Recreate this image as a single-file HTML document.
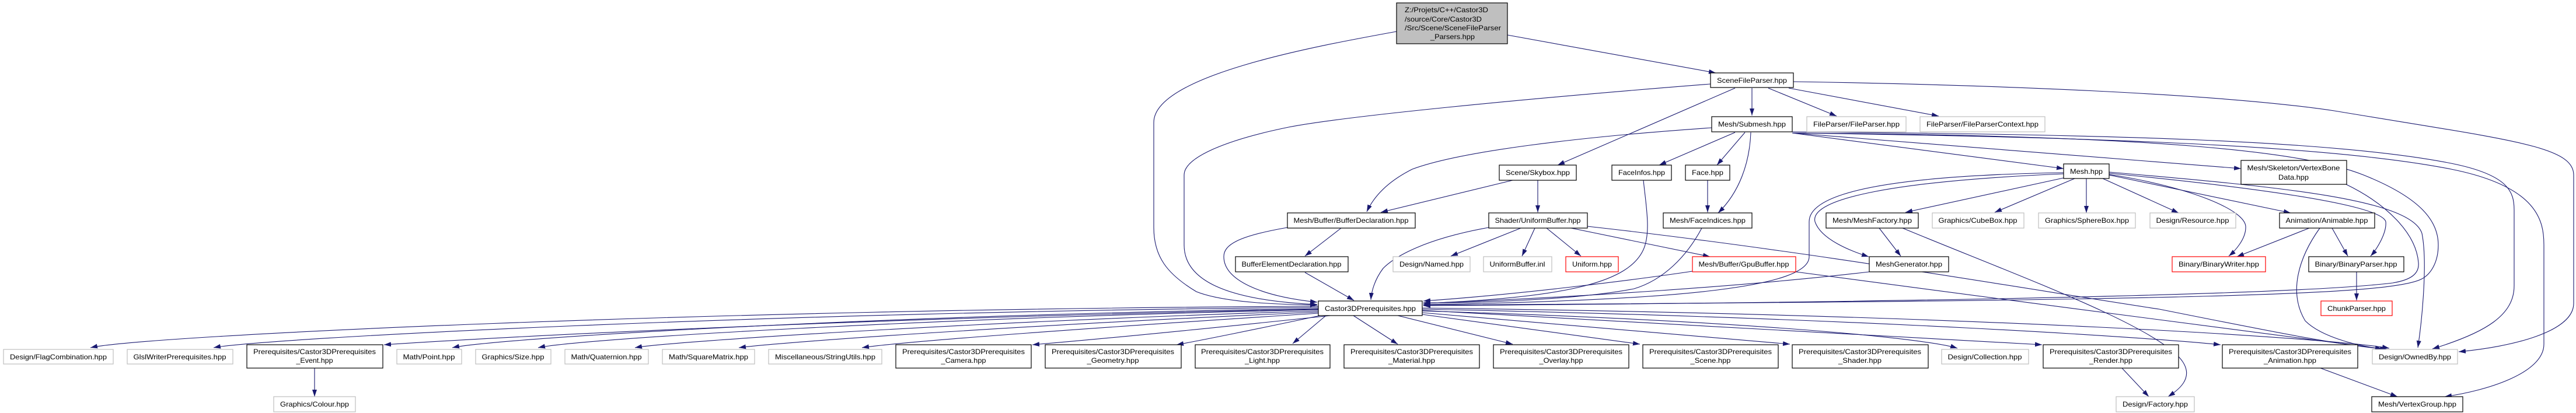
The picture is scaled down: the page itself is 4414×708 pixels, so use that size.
<!DOCTYPE html>
<html><head><meta charset="utf-8"><style>
html,body{margin:0;padding:0;background:#fff;width:4414px;height:708px;overflow:hidden}
svg{display:block}
text{font-family:"Liberation Sans",sans-serif;font-size:12px;fill:#000}
.e{fill:none;stroke:#191970;stroke-width:1.1}
.nb{fill:#fff;stroke:#000;stroke-width:1.2}
.ng{fill:#fff;stroke:#bfbfbf;stroke-width:1.2}
.nr{fill:#fff;stroke:#ff0000;stroke-width:1.2}
</style></head><body>
<svg width="4414" height="708" viewBox="0 0 4414 708" xmlns="http://www.w3.org/2000/svg">
<defs><marker id="a" markerUnits="userSpaceOnUse" markerWidth="12" markerHeight="8" refX="12" refY="4" orient="auto"><path d="M0,0 L12,4 L0,8 z" fill="#191970"/></marker></defs>
<g class="e" marker-end="url(#a)">
<!-- top node -->
<path d="M2583,60 L2940,125"/>
<path d="M2393,54 C2250,80 1977,130 1977,210 L1977,390 C1977,440 2000,470 2050,500 C2100,520 2200,522 2257,523"/>
<!-- SceneFileParser -->
<path d="M2931,144 C2600,170 2300,200 2208,218 C2100,240 2029,270 2029,300 L2029,420 C2029,480 2100,515 2257,522"/>
<path d="M3002,151 L3002,198"/>
<path d="M3030,151 L3147,199"/>
<path d="M3065,151 L3322,199"/>
<path d="M2973,151 L2669,283"/>
<path d="M3073,140 C3400,145 3800,160 4000,190 C4300,240 4410,250 4410,300 L4410,520 C4410,570 4300,595 4213,603"/>
<!-- Submesh -->
<path d="M2933,219 C2700,235 2500,260 2420,290 C2380,310 2355,335 2342,363"/>
<path d="M2973,227 L2843,283"/>
<path d="M2990,227 L2942,283"/>
<path d="M3000,227 C2998,280 2980,330 2944,365"/>
<path d="M3071,228 L3536,289"/>
<path d="M3071,228 L3840,289"/>
<path d="M3071,226 C3600,230 4000,240 4200,280 C4300,300 4308,330 4308,360 L4308,490 C4308,540 4260,570 4168,598"/>
<path d="M3071,228 C3600,235 4000,250 4200,290 C4350,320 4359,380 4359,420 L4359,590 C4359,640 4260,670 4189,680"/>
<path d="M3071,228 C3700,232 3950,260 4050,300 C4150,340 4178,380 4178,420 C4178,450 4165,470 4150,478 C4100,505 3800,515 2439,523"/>
<path d="M4020,316 C4090,350 4140,400 4144,450 C4146,470 4130,480 4100,485 C3900,510 3000,520 2439,524"/>
<!-- Mesh -->
<path d="M3555,306 L3418,364"/>
<path d="M3575,306 L3575,365"/>
<path d="M3603,306 L3733,365"/>
<path d="M3614,300 L3925,365"/>
<path d="M3614,299 C3750,320 3850,360 3848,390 C3848,410 3830,430 3819,439"/>
<path d="M3614,297 C3850,320 4080,350 4088,380 C4090,400 4072,428 4062,439"/>
<path d="M3614,295 C3900,320 4130,340 4150,400 C4160,450 4150,550 4143,596"/>
<path d="M3536,296 C3300,300 3100,320 3100,380 L3100,440 C3100,490 2900,515 2439,522"/>
<path d="M3536,298 C3250,310 3100,340 3110,380 C3120,410 3170,430 3202,440"/>
<path d="M3536,305 L3265,364"/>
<path d="M3220,391 L3257,439"/>
<path d="M3260,391 C3450,470 3700,560 3740,620 C3760,650 3730,670 3715,680"/>
<path d="M3203,466 C3000,490 2700,510 2439,520"/>
<!-- Animable -->
<path d="M3957,391 L3833,440"/>
<path d="M3996,391 L4023,439"/>
<path d="M3975,391 C3940,440 3920,500 3950,550 C3980,580 4050,595 4082,598"/>
<path d="M4038,466 L4038,515"/>
<!-- Skybox etc -->
<path d="M2592,309 L2366,364"/>
<path d="M2635,309 L2635,364"/>
<path d="M2298,391 L2236,439"/>
<path d="M2206,390 C2120,405 2097,420 2097,440 C2097,480 2160,508 2257,518"/>
<path d="M2236,467 L2320,515"/>
<path d="M2551,390 C2440,410 2390,440 2370,460 C2355,480 2350,500 2349,514"/>
<path d="M2606,391 L2486,439"/>
<path d="M2630,391 L2608,439"/>
<path d="M2650,391 L2709,439"/>
<path d="M2692,391 L2930,440"/>
<path d="M2720,388 C3100,430 3500,500 3700,530 C3900,570 4000,590 4090,599"/>
<path d="M2816,309 C2820,350 2830,400 2815,430 C2790,480 2700,510 2439,520"/>
<path d="M2926,309 L2926,364"/>
<path d="M2916,391 C2890,440 2850,480 2800,495 C2700,515 2500,520 2439,519"/>
<path d="M2900,465 C2800,480 2600,505 2439,516"/>
<path d="M3077,466 C3400,510 3800,560 4082,598"/>
<!-- Castor3DPrerequisites to bottom -->
<path d="M2272,541 L2215,589"/>
<path d="M2319,541 L2395,590"/>
<path d="M2395,541 L2592,590"/>
<path d="M2437,539 L2810,590"/>
<path d="M2437,536 L3067,590"/>
<path d="M2437,533 C3000,550 3300,580 3354,597"/>
<path d="M2437,532 L3499,591"/>
<path d="M2437,530 C3200,545 3700,580 3805,591"/>
<path d="M2437,528 C3400,540 4000,580 4094,597"/>
<path d="M2259,530 C1500,545 900,575 658,591"/>
<path d="M2280,541 C2100,560 1900,580 1769,591"/>
<path d="M2262,541 C2150,565 2050,585 2016,591"/>
<path d="M2259,537 C1900,560 1550,585 1477,596"/>
<path d="M2259,535 C1800,555 1350,585 1266,596"/>
<path d="M2259,533 C1700,550 1150,585 1088,596"/>
<path d="M2259,531 C1600,545 1000,580 922,596"/>
<path d="M2259,529 C1500,540 850,580 775,596"/>
<path d="M2259,527 C1300,535 450,580 366,596"/>
<path d="M2259,525 C1200,530 250,575 155,596"/>
<path d="M539,631 L539,680"/>
<path d="M3636,631 L3682,680"/>
<path d="M3976,631 L4108,680"/>
</g>
<!-- nodes -->
<rect x="2393" y="5" width="190" height="70" fill="#bfbfbf" stroke="#000" stroke-width="1.2"/>
<text x="2407" y="21" textLength="143" lengthAdjust="spacingAndGlyphs">Z:/Projets/C++/Castor3D</text>
<text x="2407" y="37" textLength="132" lengthAdjust="spacingAndGlyphs">/source/Core/Castor3D</text>
<text x="2407" y="52" textLength="165" lengthAdjust="spacingAndGlyphs">/Src/Scene/SceneFileParser</text>
<text x="2489" y="67" text-anchor="middle" textLength="76" lengthAdjust="spacingAndGlyphs">_Parsers.hpp</text>
<g text-anchor="middle">
<rect class="nb" x="2931" y="125" width="142" height="25"/><text x="3002" y="142" textLength="120" lengthAdjust="spacingAndGlyphs">SceneFileParser.hpp</text>
<rect class="nb" x="2933" y="200" width="138" height="26"/><text x="3002" y="217" textLength="116" lengthAdjust="spacingAndGlyphs">Mesh/Submesh.hpp</text>
<rect class="ng" x="3096" y="200" width="170" height="26"/><text x="3181" y="217" textLength="148" lengthAdjust="spacingAndGlyphs">FileParser/FileParser.hpp</text>
<rect class="ng" x="3290" y="200" width="214" height="26"/><text x="3397" y="217" textLength="192" lengthAdjust="spacingAndGlyphs">FileParser/FileParserContext.hpp</text>
<rect class="nb" x="2569" y="283" width="132" height="26"/><text x="2635" y="300" textLength="110" lengthAdjust="spacingAndGlyphs">Scene/Skybox.hpp</text>
<rect class="nb" x="2762" y="283" width="102" height="26"/><text x="2813" y="300" textLength="80" lengthAdjust="spacingAndGlyphs">FaceInfos.hpp</text>
<rect class="nb" x="2888" y="283" width="76" height="26"/><text x="2926" y="300" textLength="54" lengthAdjust="spacingAndGlyphs">Face.hpp</text>
<rect class="nb" x="3536" y="281" width="78" height="25"/><text x="3575" y="298" textLength="56" lengthAdjust="spacingAndGlyphs">Mesh.hpp</text>
<rect class="nb" x="3840" y="275" width="181" height="41"/><text x="3930" y="292" textLength="159" lengthAdjust="spacingAndGlyphs">Mesh/Skeleton/VertexBone</text><text x="3930" y="308" textLength="52" lengthAdjust="spacingAndGlyphs">Data.hpp</text>
<rect class="nb" x="2206" y="365" width="219" height="26"/><text x="2315" y="382" textLength="197" lengthAdjust="spacingAndGlyphs">Mesh/Buffer/BufferDeclaration.hpp</text>
<rect class="nb" x="2551" y="365" width="169" height="26"/><text x="2635" y="382" textLength="147" lengthAdjust="spacingAndGlyphs">Shader/UniformBuffer.hpp</text>
<rect class="nb" x="2850" y="365" width="152" height="26"/><text x="2926" y="382" textLength="130" lengthAdjust="spacingAndGlyphs">Mesh/FaceIndices.hpp</text>
<rect class="nb" x="3129" y="365" width="158" height="26"/><text x="3208" y="382" textLength="136" lengthAdjust="spacingAndGlyphs">Mesh/MeshFactory.hpp</text>
<rect class="ng" x="3311" y="365" width="157" height="26"/><text x="3389" y="382" textLength="135" lengthAdjust="spacingAndGlyphs">Graphics/CubeBox.hpp</text>
<rect class="ng" x="3493" y="365" width="166" height="26"/><text x="3576" y="382" textLength="144" lengthAdjust="spacingAndGlyphs">Graphics/SphereBox.hpp</text>
<rect class="ng" x="3684" y="365" width="147" height="26"/><text x="3757" y="382" textLength="125" lengthAdjust="spacingAndGlyphs">Design/Resource.hpp</text>
<rect class="nb" x="3906" y="365" width="163" height="26"/><text x="3987" y="382" textLength="141" lengthAdjust="spacingAndGlyphs">Animation/Animable.hpp</text>
<rect class="nb" x="2117" y="440" width="193" height="26"/><text x="2213" y="457" textLength="171" lengthAdjust="spacingAndGlyphs">BufferElementDeclaration.hpp</text>
<rect class="ng" x="2387" y="440" width="132" height="26"/><text x="2453" y="457" textLength="110" lengthAdjust="spacingAndGlyphs">Design/Named.hpp</text>
<rect class="ng" x="2542" y="440" width="117" height="26"/><text x="2600" y="457" textLength="95" lengthAdjust="spacingAndGlyphs">UniformBuffer.inl</text>
<rect class="nr" x="2683" y="440" width="90" height="26"/><text x="2728" y="457" textLength="68" lengthAdjust="spacingAndGlyphs">Uniform.hpp</text>
<rect class="nr" x="2900" y="440" width="177" height="26"/><text x="2988" y="457" textLength="155" lengthAdjust="spacingAndGlyphs">Mesh/Buffer/GpuBuffer.hpp</text>
<rect class="nb" x="3203" y="440" width="136" height="26"/><text x="3271" y="457" textLength="114" lengthAdjust="spacingAndGlyphs">MeshGenerator.hpp</text>
<rect class="nr" x="3722" y="440" width="160" height="26"/><text x="3802" y="457" textLength="138" lengthAdjust="spacingAndGlyphs">Binary/BinaryWriter.hpp</text>
<rect class="nb" x="3956" y="440" width="163" height="26"/><text x="4037" y="457" textLength="141" lengthAdjust="spacingAndGlyphs">Binary/BinaryParser.hpp</text>
<rect class="nb" x="2259" y="516" width="178" height="25"/><text x="2348" y="533" textLength="156" lengthAdjust="spacingAndGlyphs">Castor3DPrerequisites.hpp</text>
<rect class="nr" x="3977" y="516" width="122" height="25"/><text x="4038" y="533" textLength="100" lengthAdjust="spacingAndGlyphs">ChunkParser.hpp</text>
<rect class="ng" x="6" y="599" width="188" height="25"/><text x="100" y="616" textLength="166" lengthAdjust="spacingAndGlyphs">Design/FlagCombination.hpp</text>
<rect class="ng" x="218" y="599" width="181" height="25"/><text x="308" y="616" textLength="159" lengthAdjust="spacingAndGlyphs">GlslWriterPrerequisites.hpp</text>
<rect class="nb" x="423" y="591" width="233" height="40"/><text x="539" y="607" textLength="210" lengthAdjust="spacingAndGlyphs">Prerequisites/Castor3DPrerequisites</text><text x="539" y="622" textLength="63" lengthAdjust="spacingAndGlyphs">_Event.hpp</text>
<rect class="ng" x="680" y="599" width="111" height="25"/><text x="735" y="616" textLength="89" lengthAdjust="spacingAndGlyphs">Math/Point.hpp</text>
<rect class="ng" x="815" y="599" width="129" height="25"/><text x="879" y="616" textLength="107" lengthAdjust="spacingAndGlyphs">Graphics/Size.hpp</text>
<rect class="ng" x="968" y="599" width="143" height="25"/><text x="1039" y="616" textLength="121" lengthAdjust="spacingAndGlyphs">Math/Quaternion.hpp</text>
<rect class="ng" x="1135" y="599" width="158" height="25"/><text x="1214" y="616" textLength="136" lengthAdjust="spacingAndGlyphs">Math/SquareMatrix.hpp</text>
<rect class="ng" x="1317" y="599" width="194" height="25"/><text x="1414" y="616" textLength="172" lengthAdjust="spacingAndGlyphs">Miscellaneous/StringUtils.hpp</text>
<rect class="nb" x="1535" y="591" width="232" height="40"/><text x="1651" y="607" textLength="210" lengthAdjust="spacingAndGlyphs">Prerequisites/Castor3DPrerequisites</text><text x="1651" y="622" textLength="77" lengthAdjust="spacingAndGlyphs">_Camera.hpp</text>
<rect class="nb" x="1791" y="591" width="233" height="40"/><text x="1907" y="607" textLength="210" lengthAdjust="spacingAndGlyphs">Prerequisites/Castor3DPrerequisites</text><text x="1907" y="622" textLength="89" lengthAdjust="spacingAndGlyphs">_Geometry.hpp</text>
<rect class="nb" x="2048" y="591" width="231" height="40"/><text x="2163" y="607" textLength="210" lengthAdjust="spacingAndGlyphs">Prerequisites/Castor3DPrerequisites</text><text x="2163" y="622" textLength="60" lengthAdjust="spacingAndGlyphs">_Light.hpp</text>
<rect class="nb" x="2303" y="591" width="232" height="40"/><text x="2419" y="607" textLength="210" lengthAdjust="spacingAndGlyphs">Prerequisites/Castor3DPrerequisites</text><text x="2419" y="622" textLength="80" lengthAdjust="spacingAndGlyphs">_Material.hpp</text>
<rect class="nb" x="2559" y="591" width="232" height="40"/><text x="2675" y="607" textLength="210" lengthAdjust="spacingAndGlyphs">Prerequisites/Castor3DPrerequisites</text><text x="2675" y="622" textLength="75" lengthAdjust="spacingAndGlyphs">_Overlay.hpp</text>
<rect class="nb" x="2815" y="591" width="232" height="40"/><text x="2931" y="607" textLength="210" lengthAdjust="spacingAndGlyphs">Prerequisites/Castor3DPrerequisites</text><text x="2931" y="622" textLength="69" lengthAdjust="spacingAndGlyphs">_Scene.hpp</text>
<rect class="nb" x="3071" y="591" width="233" height="40"/><text x="3187" y="607" textLength="210" lengthAdjust="spacingAndGlyphs">Prerequisites/Castor3DPrerequisites</text><text x="3187" y="622" textLength="74" lengthAdjust="spacingAndGlyphs">_Shader.hpp</text>
<rect class="ng" x="3327" y="599" width="149" height="25"/><text x="3401" y="616" textLength="127" lengthAdjust="spacingAndGlyphs">Design/Collection.hpp</text>
<rect class="nb" x="3501" y="591" width="232" height="40"/><text x="3617" y="607" textLength="210" lengthAdjust="spacingAndGlyphs">Prerequisites/Castor3DPrerequisites</text><text x="3617" y="622" textLength="74" lengthAdjust="spacingAndGlyphs">_Render.hpp</text>
<rect class="nb" x="3808" y="591" width="232" height="40"/><text x="3924" y="607" textLength="210" lengthAdjust="spacingAndGlyphs">Prerequisites/Castor3DPrerequisites</text><text x="3924" y="622" textLength="90" lengthAdjust="spacingAndGlyphs">_Animation.hpp</text>
<rect class="ng" x="4065" y="599" width="146" height="25"/><text x="4138" y="616" textLength="124" lengthAdjust="spacingAndGlyphs">Design/OwnedBy.hpp</text>
<rect class="ng" x="469" y="680" width="140" height="26"/><text x="539" y="697" textLength="118" lengthAdjust="spacingAndGlyphs">Graphics/Colour.hpp</text>
<rect class="ng" x="3626" y="680" width="134" height="26"/><text x="3693" y="697" textLength="112" lengthAdjust="spacingAndGlyphs">Design/Factory.hpp</text>
<rect class="nb" x="4064" y="680" width="156" height="26"/><text x="4142" y="697" textLength="134" lengthAdjust="spacingAndGlyphs">Mesh/VertexGroup.hpp</text>
</g>
</svg>
</body></html>
